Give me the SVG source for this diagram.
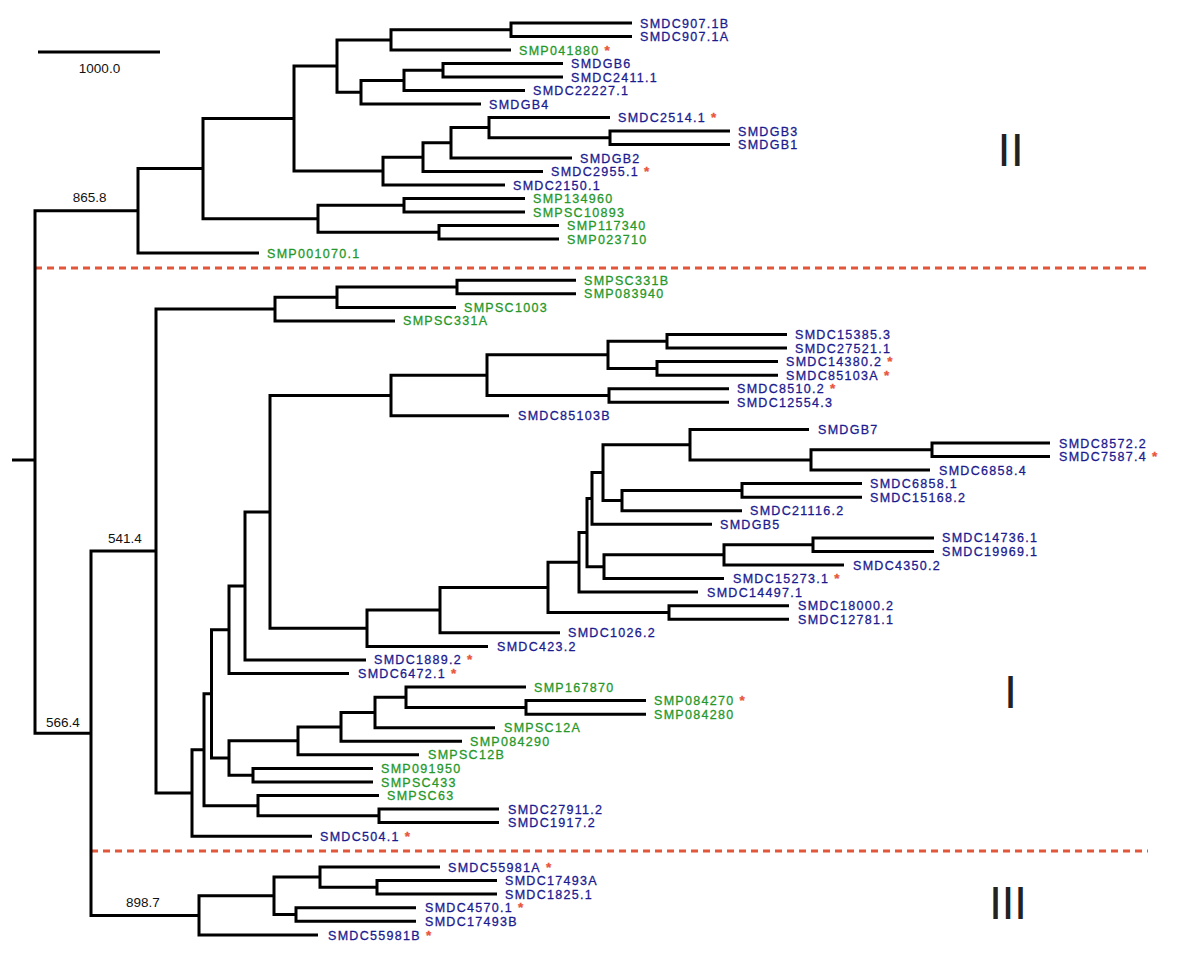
<svg xmlns="http://www.w3.org/2000/svg" width="1200" height="961" viewBox="0 0 1200 961">
<style>
.br{fill:none;stroke:#000;stroke-width:3;stroke-linejoin:miter}
.lb{font-family:"Liberation Sans",Arial,sans-serif;font-size:12.5px;letter-spacing:1.3px}
.bl{fill:#1b1b8f;stroke:#1b1b8f;stroke-width:0.3}
.gr{fill:#26982a;stroke:#26982a;stroke-width:0.3}
.st{fill:#e8553a;stroke:#e8553a;stroke-width:0.3;font-weight:bold;font-size:13.5px}
.num{font-family:"Liberation Sans",Arial,sans-serif;font-size:13.5px;fill:#111;text-anchor:middle}
.rom{font-family:"Liberation Sans",Arial,sans-serif;font-size:47px;fill:#222}
.dash{fill:none;stroke:#e2573a;stroke-width:3;stroke-dasharray:7 5}
</style>
<rect width="1200" height="961" fill="#fff"/>
<g id="scale">
<path class="br" d="M38 52 H160"/>
<text class="num" x="99.5" y="73.3">1000.0</text>
</g>
<g id="separators">
<path class="dash" d="M35 268 H1148"/>
<path class="dash" d="M91 851 H1148"/>
</g>
<g id="clade-labels">
<text class="rom" x="997.6" y="165.7">II</text>
<text class="rom" x="1004" y="707.7">I</text>
<text class="rom" x="989" y="919" letter-spacing="-0.6">III</text>
</g>
<g id="connectors" class="br">
<path d="M632 23 H511 V36.5 H632"/>
<path d="M511 29.75 H391 V50 H511"/>
<path d="M563 63.5 H443 V77 H563"/>
<path d="M443 70.25 H404 V90.5 H525"/>
<path d="M404 80.4 H361 V104 H481"/>
<path d="M391 39.9 H337 V92.2 H361"/>
<path d="M730 131 H610 V144.5 H730"/>
<path d="M610 117.5 H489 V137.75 H610"/>
<path d="M489 127.6 H451 V158 H572"/>
<path d="M451 142.8 H423 V171.5 H543"/>
<path d="M423 157.2 H383 V185 H505"/>
<path d="M337 66 H294 V171.1 H383"/>
<path d="M525 198.5 H404 V212 H525"/>
<path d="M559 225.5 H439 V239 H559"/>
<path d="M404 205.25 H318 V232.25 H439"/>
<path d="M294 118.5 H203 V218.75 H318"/>
<path d="M203 168.6 H138 V253 H259"/>
<path d="M138 210.8 H35 V733.2 H91"/>
<path d="M12 460 H35"/>
<path d="M576 280.2 H457 V293.8 H576"/>
<path d="M457 287 H337 V307.4 H456"/>
<path d="M337 297.2 H275 V320.9 H395"/>
<path d="M787 334.5 H667 V348 H787"/>
<path d="M778 361.6 H657 V375.2 H778"/>
<path d="M667 341.25 H608 V368.4 H657"/>
<path d="M729 388.7 H609 V402.3 H729"/>
<path d="M608 354.8 H487 V395.5 H609"/>
<path d="M487 375.15 H391 V415.8 H509"/>
<path d="M1050 443 H932 V456.5 H1050"/>
<path d="M932 449.75 H811 V470.1 H930"/>
<path d="M809 429.4 H690 V459.9 H811"/>
<path d="M862 483.6 H742 V497.2 H862"/>
<path d="M742 490.4 H622 V510.8 H742"/>
<path d="M690 444.65 H603 V500.6 H622"/>
<path d="M603 472.6 H592 V524.3 H712"/>
<path d="M934 537.9 H813 V551.4 H934"/>
<path d="M813 544.65 H724 V565 H844"/>
<path d="M724 554.8 H604 V578.6 H724"/>
<path d="M592 498.45 H587 V566.7 H604"/>
<path d="M587 532.6 H579 V592.1 H698"/>
<path d="M789 605.7 H669 V619.2 H789"/>
<path d="M579 562.35 H548 V612.45 H669"/>
<path d="M548 587.4 H440 V632.8 H560"/>
<path d="M440 610.1 H367 V646.4 H488"/>
<path d="M391 395.5 H270 V628.25 H367"/>
<path d="M270 511.9 H245 V659.9 H366"/>
<path d="M245 585.9 H229 V673.5 H349"/>
<path d="M646 700.6 H526 V714.2 H646"/>
<path d="M526 687 H406 V707.4 H526"/>
<path d="M406 697.2 H375 V727.7 H495"/>
<path d="M375 712.45 H341 V741.3 H462"/>
<path d="M341 726.9 H298 V754.8 H419"/>
<path d="M373 768.4 H253 V782 H373"/>
<path d="M298 740.85 H229 V775.2 H253"/>
<path d="M229 629.7 H211.5 V758 H229"/>
<path d="M499 809.1 H379 V822.6 H499"/>
<path d="M379 795.5 H258 V815.85 H379"/>
<path d="M211.5 693.85 H204 V805.7 H258"/>
<path d="M204 749.8 H192 V836.2 H312"/>
<path d="M275 309.05 H156 V793 H192"/>
<path d="M497 880.5 H377 V894 H497"/>
<path d="M440 867 H320 V887.25 H377"/>
<path d="M416 907.8 H296 V921.3 H416"/>
<path d="M320 877.1 H274 V914.55 H296"/>
<path d="M274 895.8 H199 V935 H318"/>
<path d="M156 551 H91 V915.4 H199"/>
</g>
<g id="support-values">
<text class="num" x="89.7" y="201.7">865.8</text>
<text class="num" x="125" y="542.7">541.4</text>
<text class="num" x="62.8" y="727.3">566.4</text>
<text class="num" x="143" y="906.7">898.7</text>
</g>
<g id="leaves" class="lb">
<g id="n-SMDC907.1B"><text class="bl" x="640" y="27.5">SMDC907.1B</text></g>
<g id="n-SMDC907.1A"><text class="bl" x="640" y="41">SMDC907.1A</text></g>
<g id="n-SMP041880"><text class="gr" x="519" y="54.5">SMP041880<tspan class="st"> *</tspan></text></g>
<g id="n-SMDGB6"><text class="bl" x="571" y="68">SMDGB6</text></g>
<g id="n-SMDC2411.1"><text class="bl" x="571" y="81.5">SMDC2411.1</text></g>
<g id="n-SMDC22227.1"><text class="bl" x="533" y="95">SMDC22227.1</text></g>
<g id="n-SMDGB4"><text class="bl" x="489" y="108.5">SMDGB4</text></g>
<g id="n-SMDC2514.1"><text class="bl" x="618" y="122">SMDC2514.1<tspan class="st"> *</tspan></text></g>
<g id="n-SMDGB3"><text class="bl" x="738" y="135.5">SMDGB3</text></g>
<g id="n-SMDGB1"><text class="bl" x="738" y="149">SMDGB1</text></g>
<g id="n-SMDGB2"><text class="bl" x="580" y="162.5">SMDGB2</text></g>
<g id="n-SMDC2955.1"><text class="bl" x="551" y="176">SMDC2955.1<tspan class="st"> *</tspan></text></g>
<g id="n-SMDC2150.1"><text class="bl" x="513" y="189.5">SMDC2150.1</text></g>
<g id="n-SMP134960"><text class="gr" x="533" y="203">SMP134960</text></g>
<g id="n-SMPSC10893"><text class="gr" x="533" y="216.5">SMPSC10893</text></g>
<g id="n-SMP117340"><text class="gr" x="567" y="230">SMP117340</text></g>
<g id="n-SMP023710"><text class="gr" x="567" y="243.5">SMP023710</text></g>
<g id="n-SMP001070.1"><text class="gr" x="267" y="257.5">SMP001070.1</text></g>
<g id="n-SMPSC331B"><text class="gr" x="584" y="284.7">SMPSC331B</text></g>
<g id="n-SMP083940"><text class="gr" x="584" y="298.3">SMP083940</text></g>
<g id="n-SMPSC1003"><text class="gr" x="464" y="311.9">SMPSC1003</text></g>
<g id="n-SMPSC331A"><text class="gr" x="403" y="325.4">SMPSC331A</text></g>
<g id="n-SMDC15385.3"><text class="bl" x="795" y="339">SMDC15385.3</text></g>
<g id="n-SMDC27521.1"><text class="bl" x="795" y="352.5">SMDC27521.1</text></g>
<g id="n-SMDC14380.2"><text class="bl" x="786" y="366.1">SMDC14380.2<tspan class="st"> *</tspan></text></g>
<g id="n-SMDC85103A"><text class="bl" x="786" y="379.7">SMDC85103A<tspan class="st"> *</tspan></text></g>
<g id="n-SMDC8510.2"><text class="bl" x="737" y="393.2">SMDC8510.2<tspan class="st"> *</tspan></text></g>
<g id="n-SMDC12554.3"><text class="bl" x="737" y="406.8">SMDC12554.3</text></g>
<g id="n-SMDC85103B"><text class="bl" x="518" y="420.3">SMDC85103B</text></g>
<g id="n-SMDGB7"><text class="bl" x="818" y="433.9">SMDGB7</text></g>
<g id="n-SMDC8572.2"><text class="bl" x="1059" y="447.5">SMDC8572.2</text></g>
<g id="n-SMDC7587.4"><text class="bl" x="1059" y="461">SMDC7587.4<tspan class="st"> *</tspan></text></g>
<g id="n-SMDC6858.4"><text class="bl" x="939" y="474.6">SMDC6858.4</text></g>
<g id="n-SMDC6858.1"><text class="bl" x="870" y="488.1">SMDC6858.1</text></g>
<g id="n-SMDC15168.2"><text class="bl" x="870" y="501.7">SMDC15168.2</text></g>
<g id="n-SMDC21116.2"><text class="bl" x="750" y="515.3">SMDC21116.2</text></g>
<g id="n-SMDGB5"><text class="bl" x="720" y="528.8">SMDGB5</text></g>
<g id="n-SMDC14736.1"><text class="bl" x="942" y="542.4">SMDC14736.1</text></g>
<g id="n-SMDC19969.1"><text class="bl" x="942" y="555.9">SMDC19969.1</text></g>
<g id="n-SMDC4350.2"><text class="bl" x="853" y="569.5">SMDC4350.2</text></g>
<g id="n-SMDC15273.1"><text class="bl" x="733" y="583.1">SMDC15273.1<tspan class="st"> *</tspan></text></g>
<g id="n-SMDC14497.1"><text class="bl" x="707" y="596.6">SMDC14497.1</text></g>
<g id="n-SMDC18000.2"><text class="bl" x="798" y="610.2">SMDC18000.2</text></g>
<g id="n-SMDC12781.1"><text class="bl" x="798" y="623.7">SMDC12781.1</text></g>
<g id="n-SMDC1026.2"><text class="bl" x="568" y="637.3">SMDC1026.2</text></g>
<g id="n-SMDC423.2"><text class="bl" x="497" y="650.9">SMDC423.2</text></g>
<g id="n-SMDC1889.2"><text class="bl" x="374" y="664.4">SMDC1889.2<tspan class="st"> *</tspan></text></g>
<g id="n-SMDC6472.1"><text class="bl" x="358" y="678">SMDC6472.1<tspan class="st"> *</tspan></text></g>
<g id="n-SMP167870"><text class="gr" x="534" y="691.5">SMP167870</text></g>
<g id="n-SMP084270"><text class="gr" x="654" y="705.1">SMP084270<tspan class="st"> *</tspan></text></g>
<g id="n-SMP084280"><text class="gr" x="654" y="718.7">SMP084280</text></g>
<g id="n-SMPSC12A"><text class="gr" x="504" y="732.2">SMPSC12A</text></g>
<g id="n-SMP084290"><text class="gr" x="470" y="745.8">SMP084290</text></g>
<g id="n-SMPSC12B"><text class="gr" x="428" y="759.3">SMPSC12B</text></g>
<g id="n-SMP091950"><text class="gr" x="381" y="772.9">SMP091950</text></g>
<g id="n-SMPSC433"><text class="gr" x="381" y="786.5">SMPSC433</text></g>
<g id="n-SMPSC63"><text class="gr" x="387" y="800">SMPSC63</text></g>
<g id="n-SMDC27911.2"><text class="bl" x="508" y="813.6">SMDC27911.2</text></g>
<g id="n-SMDC1917.2"><text class="bl" x="508" y="827.1">SMDC1917.2</text></g>
<g id="n-SMDC504.1"><text class="bl" x="320" y="840.7">SMDC504.1<tspan class="st"> *</tspan></text></g>
<g id="n-SMDC55981A"><text class="bl" x="448" y="871.5">SMDC55981A<tspan class="st"> *</tspan></text></g>
<g id="n-SMDC17493A"><text class="bl" x="505" y="885">SMDC17493A</text></g>
<g id="n-SMDC1825.1"><text class="bl" x="505" y="898.5">SMDC1825.1</text></g>
<g id="n-SMDC4570.1"><text class="bl" x="425" y="912.3">SMDC4570.1<tspan class="st"> *</tspan></text></g>
<g id="n-SMDC17493B"><text class="bl" x="425" y="925.8">SMDC17493B</text></g>
<g id="n-SMDC55981B"><text class="bl" x="328" y="939.5">SMDC55981B<tspan class="st"> *</tspan></text></g>
</g>
</svg>
